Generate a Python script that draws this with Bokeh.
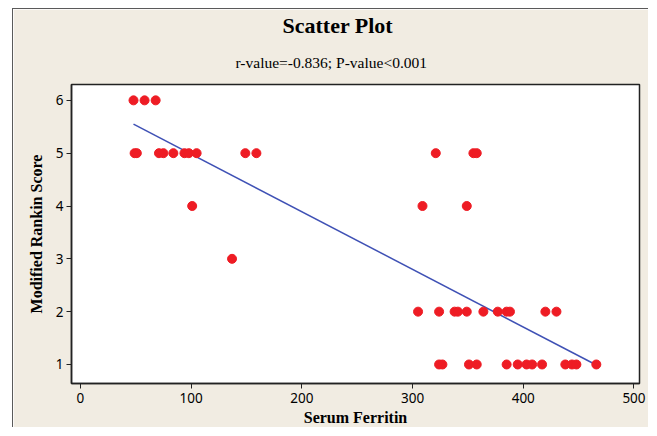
import numpy as np
from bokeh.plotting import figure
from bokeh.models import Title, Range1d, FixedTicker
from bokeh.embed import file_html
from bokeh.resources import INLINE

# Data
ferritin_6 = [48, 58, 68]
ferritin_5 = [49, 51, 71, 75, 84, 94, 98, 105, 149, 159, 321, 355, 358]
ferritin_4 = [101, 309, 349]
ferritin_3 = [137]
ferritin_2 = [305, 324, 338, 341, 349, 364, 377, 385, 388, 420, 430]
ferritin_1 = [324, 327, 351, 358, 385, 395, 403, 408, 417, 438, 444, 448, 466]

# Fitted regression line as drawn in the reference (end points)
fit_line_x = [48, 466]
fit_line_y = [5.55, 0.99]

x_ticks = [0, 100, 200, 300, 400, 500]
y_ticks = [1, 2, 3, 4, 5, 6]

title_text = "Scatter Plot"
subtitle_text = "r-value=-0.836; P-value<0.001"
x_label = "Serum Ferritin"
y_label = "Modified Rankin Score"

xs = []
ys = []
for score, vals in [(6, ferritin_6), (5, ferritin_5), (4, ferritin_4), (3, ferritin_3), (2, ferritin_2), (1, ferritin_1)]:
    xs += vals
    ys += [score] * len(vals)

BG = "#f1ece2"

p = figure(width=636, height=419, output_backend="svg", toolbar_location=None,
           x_range=Range1d(-8, 505), y_range=Range1d(0.64, 6.3),
           min_border_left=58, min_border_top=75, min_border_right=10, min_border_bottom=45,
           border_fill_color=BG, background_fill_color="white")
p.margin = (8, 0, 0, 12)
p.styles = {"border-left": "1px solid #5a5a5a", "border-top": "1px solid #5a5a5a"}

p.title.text = title_text
p.title.align = "left"
p.title.offset = 211
p.title.text_font = "Liberation Serif"
p.title.text_font_size = "22px"
p.title.text_font_style = "bold"
p.title.text_color = "black"
p.title.standoff = 0

sub = Title(text=subtitle_text, align="left", offset=164, text_font="Liberation Serif",
            text_font_size="15.5px", text_font_style="normal", text_color="black", standoff=28)
p.add_layout(sub, "above")

p.grid.visible = False
p.outline_line_color = "#222222"
p.outline_line_width = 1.5

for ax in (p.xaxis[0], p.yaxis[0]):
    ax.axis_line_color = "#222222"
    ax.axis_line_width = 1.5
    ax.major_tick_line_color = "#222222"
    ax.major_tick_out = 5
    ax.major_tick_in = 0
    ax.minor_tick_line_color = None
    ax.major_label_text_font = "Noto Sans"
    ax.major_label_text_font_size = "13.5px"
    ax.major_label_text_color = "black"
    ax.axis_label_text_font = "Liberation Serif"
    ax.axis_label_text_font_size = "16px"
    ax.axis_label_text_font_style = "bold"
    ax.axis_label_text_color = "black"

p.xaxis.ticker = FixedTicker(ticks=x_ticks)
p.yaxis.ticker = FixedTicker(ticks=y_ticks)
p.xaxis.axis_label = x_label
p.yaxis.axis_label = y_label
p.xaxis.major_label_standoff = 4
p.xaxis.axis_label_standoff = 3
p.yaxis.major_label_standoff = 3
p.yaxis.axis_label_standoff = 8

p.line(fit_line_x, fit_line_y, line_color="#3f51b5", line_width=1.5)
p.scatter(xs, ys, size=9, fill_color="#ee1c24", line_color="#ee1c24")

open("out.html", "w").write(file_html(p, INLINE))
